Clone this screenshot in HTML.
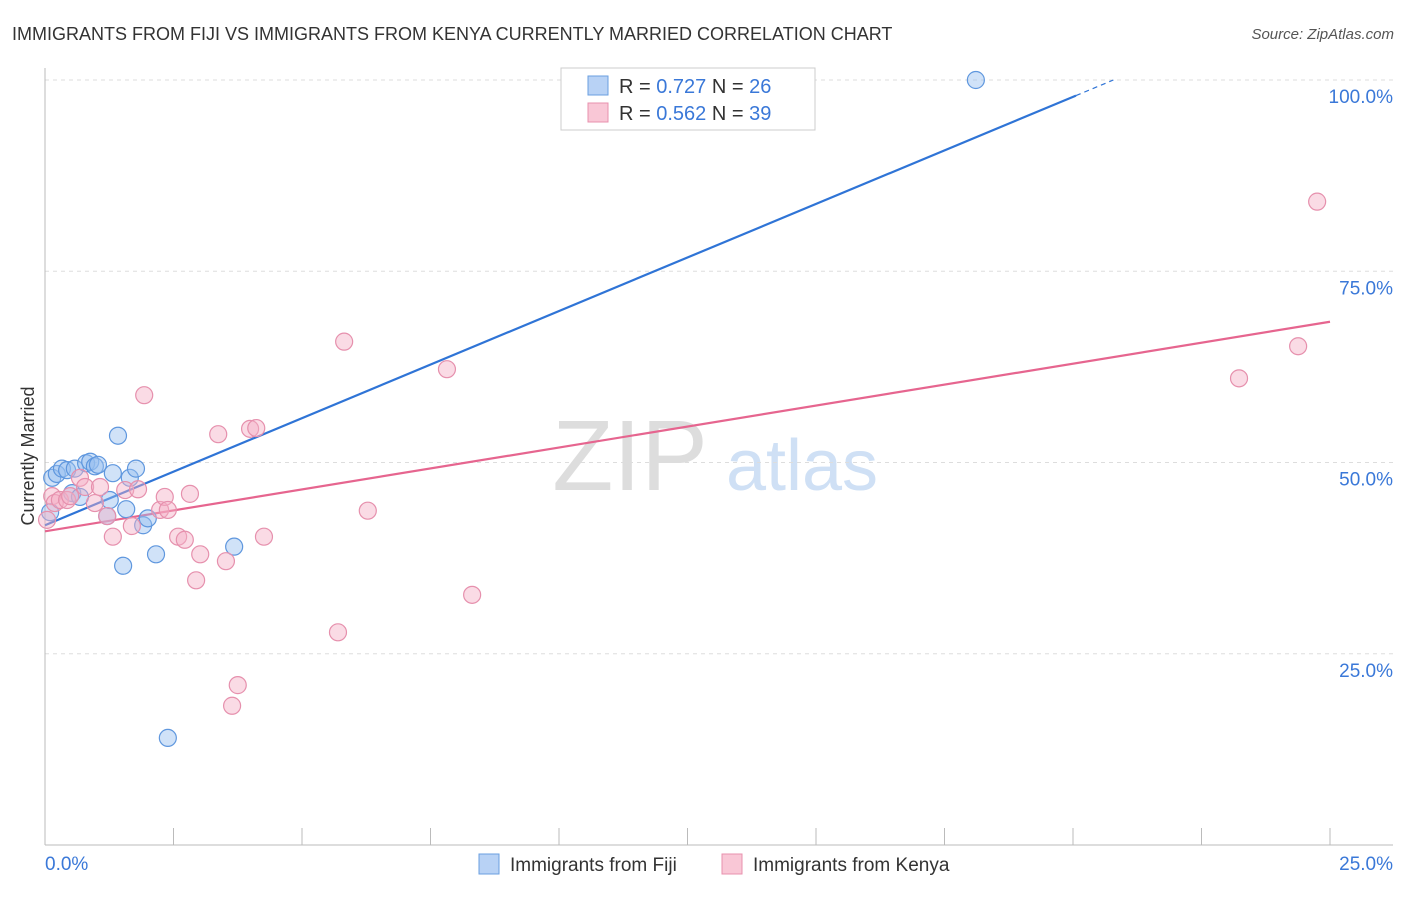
<!DOCTYPE html>
<html><head><meta charset="utf-8"><style>
body{margin:0;background:#fff;font-family:"Liberation Sans",sans-serif;}
svg text{font-family:"Liberation Sans",sans-serif;}
</style></head><body>
<svg width="1406" height="892" id="chart">
<text x="12" y="40" font-size="18" fill="#333">IMMIGRANTS FROM FIJI VS IMMIGRANTS FROM KENYA CURRENTLY MARRIED CORRELATION CHART</text>
<text x="1394" y="39" font-size="15" fill="#555" font-style="italic" text-anchor="end">Source: ZipAtlas.com</text>
<text x="630" y="490" font-size="100" fill="#ddd" font-family="Liberation Serif" text-anchor="middle">ZIP</text>
<text x="802" y="490" font-size="72" fill="#cfe0f5" text-anchor="middle">atlas</text>
<text x="34" y="456" font-size="18" fill="#333" text-anchor="middle" transform="rotate(-90 34 456)">Currently Married</text>
<g id="grid"></g><g id="ticks"></g><g id="lines"></g><g id="pts"></g>
<g>
<rect x="561" y="68" width="254" height="62" fill="#fff" stroke="#ccc"/>
<rect x="588" y="76" width="20" height="19" fill="#b8d2f5" stroke="#6a9fe0"/>
<rect x="588" y="103" width="20" height="19" fill="#f9c7d6" stroke="#e890ae"/>
<text x="619" y="93" font-size="20" fill="#333">R = <tspan fill="#3a78d8">0.727</tspan>   N = <tspan fill="#3a78d8">26</tspan></text>
<text x="619" y="120" font-size="20" fill="#333">R = <tspan fill="#3a78d8">0.562</tspan>   N = <tspan fill="#3a78d8">39</tspan></text>
</g>
<g>
<rect x="479" y="854" width="20" height="20" fill="#b8d2f5" stroke="#6a9fe0"/>
<text x="510" y="871" font-size="19" fill="#333">Immigrants from Fiji</text>
<rect x="722" y="854" width="20" height="20" fill="#f9c7d6" stroke="#e890ae"/>
<text x="753" y="871" font-size="19" fill="#333">Immigrants from Kenya</text>
</g>
</svg>
<script>
const fijiX=[0.14,0.23,0.33,0.43,0.58,0.53,0.68,0.80,0.88,0.97,1.03,1.21,1.26,1.32,1.42,1.52,1.58,1.65,1.77,1.91,2.00,2.16,2.39,3.68,18.11,0.10];
const fijiY=[48.0,48.5,49.2,49.0,49.2,46.0,45.5,49.9,50.1,49.5,49.7,43.0,45.1,48.6,53.5,36.5,43.9,48.0,49.2,41.8,42.7,38.0,14.0,39.0,100,43.5];
const kenyaX=[0.14,0.19,0.29,0.43,0.49,0.68,0.78,0.97,1.07,1.21,1.32,1.56,1.69,1.81,1.93,2.24,2.33,2.39,2.59,2.72,2.82,2.94,3.02,3.37,3.52,3.64,3.75,3.99,4.11,4.26,5.70,5.82,6.28,7.82,8.31,23.23,24.38,24.75,0.04];
const kenyaY=[45.6,44.7,45.1,45.1,45.6,48.0,46.8,44.7,46.8,43.0,40.3,46.4,41.7,46.5,58.8,43.8,45.5,43.8,40.3,39.9,45.9,34.6,38.0,53.7,37.1,18.2,20.9,54.4,54.5,40.3,27.8,65.8,43.7,62.2,32.7,61.0,65.2,84.1,42.5];
const yTicks=[25,50,75,100];
const yTickLabels=["25.0%","50.0%","75.0%","100.0%"];
const xTickLabels=["0.0%","25.0%"];
const fijiFit=[41.8,2.80]; // intercept, slope
const kenyaFit=[41.0,1.096];
const NS="http://www.w3.org/2000/svg";
const sx=v=>45+v/25*1285, sy=v=>845-v*7.65;
function mk(tag,attrs,parent){const e=document.createElementNS(NS,tag);for(const k in attrs)e.setAttribute(k,attrs[k]);document.getElementById(parent).appendChild(e);return e;}
yTicks.forEach((t,i)=>{
 const g=mk('line',{x1:45,x2:1393,y1:sy(t),y2:sy(t),stroke:'#ddd','stroke-dasharray':'4,4'},'grid');
 
 
 const l=mk('text',{x:1393,y:sy(t)+23,'font-size':19,fill:'#3a78d8','text-anchor':'end'},'grid');
 l.textContent=yTickLabels[i];
 
 
});
const ax=mk('line',{x1:45,x2:1393,y1:845,y2:845,stroke:'#bbb'},'ticks');


const ay=mk('line',{x1:45,x2:45,y1:68,y2:845,stroke:'#bbb'},'ticks');


for(let i=0;i<=10;i++){const t=mk('line',{x1:sx(i*2.5),x2:sx(i*2.5),y1:828,y2:845,stroke:'#bbb'},'ticks');
 
 }
[[0,'start',45],[1,'end',1393]].forEach(([i,a,x])=>{const l=mk('text',{x:x,y:870,'font-size':19,fill:'#3a78d8','text-anchor':a},'ticks');l.textContent=xTickLabels[i];
 
 });
// fit lines
const fx1=(100-fijiFit[0])/fijiFit[1];
const bx2=fx1*0.965;
const b1=mk('line',{x1:sx(0),y1:sy(fijiFit[0]),x2:sx(bx2),y2:sy(fijiFit[0]+fijiFit[1]*bx2),stroke:'#2f74d6','stroke-width':2.2},'lines');


const b2=mk('line',{x1:sx(bx2),y1:sy(fijiFit[0]+fijiFit[1]*bx2),x2:sx(fx1),y2:sy(100),stroke:'#2f74d6','stroke-width':1.2,'stroke-dasharray':'5,4'},'lines');


const p1=mk('line',{x1:sx(0),y1:sy(kenyaFit[0]),x2:sx(25),y2:sy(kenyaFit[0]+kenyaFit[1]*25),stroke:'#e6658f','stroke-width':2.2},'lines');


fijiX.forEach((x,i)=>{const c=mk('circle',{cx:sx(x),cy:sy(fijiY[i]),r:8.5,fill:'rgba(150,190,240,0.45)',stroke:'#5f97de','stroke-width':1.2},'pts');
 
 });
kenyaX.forEach((x,i)=>{const c=mk('circle',{cx:sx(x),cy:sy(kenyaY[i]),r:8.5,fill:'rgba(245,175,198,0.45)',stroke:'#e690ad','stroke-width':1.2},'pts');
 
 });
</script>
</body></html>
